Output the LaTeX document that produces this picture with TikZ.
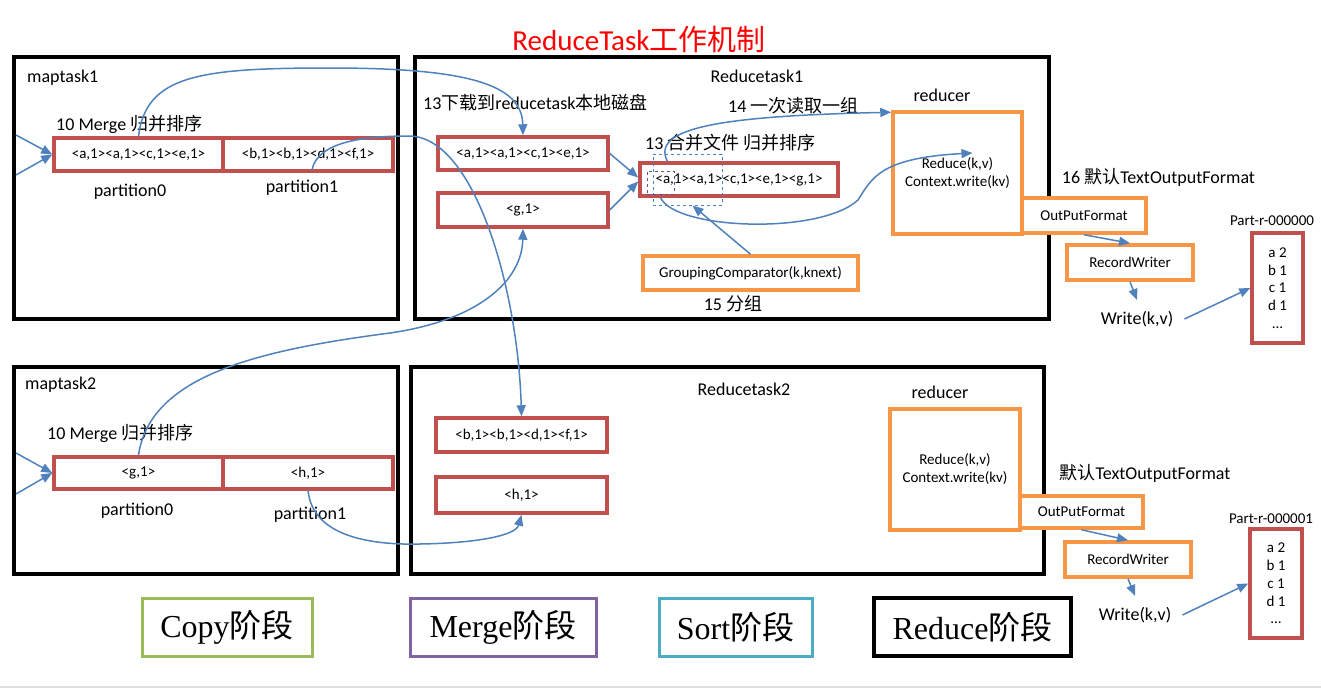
\documentclass[tikz,border=0pt]{standalone}
\usepackage{fontspec}
\setmainfont{Carlito}
\newfontfamily\cjk{Noto Sans CJK SC}
\newfontfamily\legendfont{Liberation Serif}
\usetikzlibrary{arrows.meta}
\definecolor{boxred}{HTML}{C0504D}
\definecolor{boxorange}{HTML}{F79646}
\definecolor{flowblue}{HTML}{4F81BD}
\definecolor{stgreen}{HTML}{9BBB59}
\definecolor{stpurple}{HTML}{8064A2}
\definecolor{stcyan}{HTML}{4BACC6}
\newcommand{\zhtxt}[1]{{\cjk #1}}
\newcommand{\pxsize}[1]{\fontsize{#1}{1.2\dimexpr#1pt\relax}\selectfont}
\begin{document}
\begin{tikzpicture}[x=1pt, y=-1pt, >={Triangle[length=11pt,width=9pt]},
    task/.style={draw, line width=4.5pt, inner sep=0pt},
    part/.style={draw=boxred, fill=white, line width=3.5pt, inner sep=0pt, font=\pxsize{15}},
    obox/.style={draw=boxorange, fill=white, line width=3.5pt, inner sep=0pt, font=\pxsize{15}, align=center},
    lbl/.style={font=\pxsize{18}, inner sep=0pt},
    flow/.style={->, flowblue, line width=1.5pt},
    stage/.style={line width=3pt, inner sep=0pt, minimum height=58pt, font=\legendfont\pxsize{32}}]
    \useasboundingbox (0,0) rectangle (1321,688);
    \draw[gray!25, line width=2pt] (0,687) -- (1321,687);
    \node[font=\pxsize{29}, text=red] (title) at (639,39) {ReduceTask\zhtxt{工作机制}};
    % task boxes
    \node[task, minimum width=384pt, minimum height=262pt] (mt1) at (206,188) {};
    \node[task, minimum width=634pt, minimum height=262pt] (rt1) at (732,188) {};
    \node[task, minimum width=384pt, minimum height=207pt] (mt2) at (206,470.5) {};
    \node[task, minimum width=633pt, minimum height=207pt] (rt2) at (727.5,470.5) {};
    % maptask1
    \node[lbl, anchor=west] (mt1lbl) at (27,78) {maptask1};
    \node[lbl, anchor=west] (mg1lbl) at (56,124) {10 Merge \zhtxt{归并排序}};
    \node[part, minimum width=169pt, minimum height=33pt] (m1p0) at (138.5,154.5) {<a,1><a,1><c,1><e,1>};
    \node[part, minimum width=170pt, minimum height=33pt] (m1p1) at (308,154.5) {<b,1><b,1><d,1><f,1>};
    \node[lbl] (m1p0lbl) at (130,192) {partition0};
    \node[lbl] (m1p1lbl) at (302,188) {partition1};
    \coordinate (in1a) at (16,135);
    \coordinate (in1b) at (16,175);
    \draw[flow] (in1a) -- (m1p0.west);
    \draw[flow] (in1b) -- (m1p0.west);
    % maptask2
    \node[lbl, anchor=west] (mt2lbl) at (25,385) {maptask2};
    \node[lbl, anchor=west] (mg2lbl) at (47,433) {10 Merge \zhtxt{归并排序}};
    \node[part, minimum width=169pt, minimum height=32pt] (m2p0) at (138.5,473) {<g,1>};
    \node[part, minimum width=170pt, minimum height=32pt] (m2p1) at (308,473) {<h,1>};
    \node[lbl] (m2p0lbl) at (137,511) {partition0};
    \node[lbl] (m2p1lbl) at (310,515) {partition1};
    \coordinate (in2a) at (16,453);
    \coordinate (in2b) at (16,494);
    \draw[flow] (in2a) -- (m2p0.west);
    \draw[flow] (in2b) -- (m2p0.west);
    % reducetask1
    \node[lbl] (rt1lbl) at (757,76) {Reducetask1};
    \node[lbl, anchor=west] (dl1lbl) at (423,103) {13\zhtxt{下载到}reducetask\zhtxt{本地磁盘}};
    \node[part, minimum width=170pt, minimum height=33pt] (r1a) at (523,153.5) {<a,1><a,1><c,1><e,1>};
    \node[part, minimum width=170pt, minimum height=34pt] (r1b) at (523,210) {<g,1>};
    \node[lbl, anchor=west] (rdlbl) at (728,106) {14 \zhtxt{一次读取一组}};
    \node[lbl, anchor=west] (mglbl) at (645,143) {13 \zhtxt{合并文件 归并排序}};
    \node[part, minimum width=198pt, minimum height=33pt] (mg) at (739,179.5) {<a,1><a,1><c,1><e,1><g,1>};
    \node[draw=flowblue, dashed, line width=1pt, minimum width=69pt, minimum height=51pt] (grp) at (687.5,179.5) {};
    \node[draw=stpurple!80!black, dashed, line width=1pt, minimum width=27pt, minimum height=23pt] (key) at (660.5,182.5) {};
    \node[obox, minimum width=215pt, minimum height=34pt] (gc) at (750.5,273) {GroupingComparator(k,knext)};
    \node[lbl] (gclbl) at (733,304) {15 \zhtxt{分组}};
    \node[lbl] (rd1lbl) at (942,95) {reducer};
    \node[obox, minimum width=129pt, minimum height=122pt] (rd1) at (957.5,173) {Reduce(k,v)\\Context.write(kv)};
    \node[obox, minimum width=124pt, minimum height=35pt] (of1) at (1084,215.5) {OutPutFormat};
    \node[lbl] (tf1lbl) at (1158.5,177) {16 \zhtxt{默认}TextOutputFormat};
    \node[obox, minimum width=126pt, minimum height=35pt] (rw1) at (1130,262.5) {RecordWriter};
    \node[lbl, inner sep=11pt] (wr1) at (1137,319) {Write(k,v)};
    \node[part, minimum width=51pt, minimum height=110pt, align=center, font=\fontsize{15}{17.8}\selectfont] (f1) at (1277.5,288) {a 2\\b 1\\c 1\\d 1\\\ldots};
    \node[font=\pxsize{15}] (f1lbl) at (1272,221) {Part-r-000000};
    % reducetask2
    \node[lbl] (rt2lbl) at (744,389) {Reducetask2};
    \node[part, minimum width=171pt, minimum height=34pt] (r2a) at (521.5,435) {<b,1><b,1><d,1><f,1>};
    \node[part, minimum width=171pt, minimum height=36pt] (r2b) at (521.5,495) {<h,1>};
    \node[lbl] (rd2lbl) at (940,392) {reducer};
    \node[obox, minimum width=130pt, minimum height=121pt] (rd2) at (955,469.5) {Reduce(k,v)\\Context.write(kv)};
    \node[obox, minimum width=123pt, minimum height=32pt] (of2) at (1081.5,512) {OutPutFormat};
    \node[lbl] (tf2lbl) at (1145,473) {\zhtxt{默认}TextOutputFormat};
    \node[obox, minimum width=126pt, minimum height=35pt] (rw2) at (1128,559.5) {RecordWriter};
    \node[lbl, inner sep=11pt] (wr2) at (1135,615) {Write(k,v)};
    \node[part, minimum width=52pt, minimum height=109pt, align=center, font=\fontsize{15}{17.8}\selectfont] (f2) at (1276,583.5) {a 2\\b 1\\c 1\\d 1\\\ldots};
    \node[font=\pxsize{15}] (f2lbl) at (1271,519) {Part-r-000001};
    % copy curves
    \draw[flow] (m1p0.north) .. controls (146,75) and (200,68) .. (330,68) .. controls (470,68) and (522,85) .. (r1a.north);
    \draw[flow] ([xshift=4pt,yshift=3pt]m1p1.south) .. controls (318,140) and (370,136) .. (410,136) .. controls (475,138) and (518,290) .. (r2a.north);
    \draw[flow] (m2p0.north) .. controls (150,375) and (260,350) .. (390,333) .. controls (480,320) and (522,280) .. (r1b.south);
    \draw[flow] ([yshift=1pt]m2p1.south) .. controls (312,540) and (380,545) .. (420,544) .. controls (480,543) and (516,535) .. (r2b.south);
    % merge, group, reduce
    \draw[flow] (r1a.east) -- ([yshift=2pt]mg.west);
    \draw[flow] (r1b.east) -- ([yshift=-2pt]mg.west);
    \draw[flow] (gc.north) -- ([xshift=5pt]grp.south);
    \draw[flow] ([xshift=-20pt,yshift=-8pt]grp.north) .. controls (650,128) and (720,116) .. ([yshift=-2pt]rd1.north west);
    \draw[flow] ([xshift=-27pt,yshift=8pt]grp.south) .. controls (675,230) and (820,235) .. (858,200) .. controls (872,178) and (880,158) .. ([xshift=15pt,yshift=20pt]rd1.center);
    % output
    \draw[flow] (of1.south) -- (rw1.north);
    \draw[flow] (rw1.south) -- (wr1.north);
    \draw[flow] (wr1.east) -- (f1.west);
    \draw[flow] (of2.south) -- (rw2.north);
    \draw[flow] (rw2.south) -- (wr2.north);
    \draw[flow] (wr2.east) -- (f2.west);
    % stages
    \node[stage, draw=stgreen, minimum width=170pt] (copy) at (227,627) {Copy\zhtxt{阶段}};
    \node[stage, draw=stpurple, minimum width=186pt] (merge) at (503,627) {Merge\zhtxt{阶段}};
    \node[stage, draw=stcyan, minimum width=153pt] (sort) at (735.5,627) {Sort\zhtxt{阶段}};
    \node[stage, draw=black, line width=4pt, minimum width=197pt] (reduce) at (972.5,627) {Reduce\zhtxt{阶段}};
\end{tikzpicture}
\end{document}
